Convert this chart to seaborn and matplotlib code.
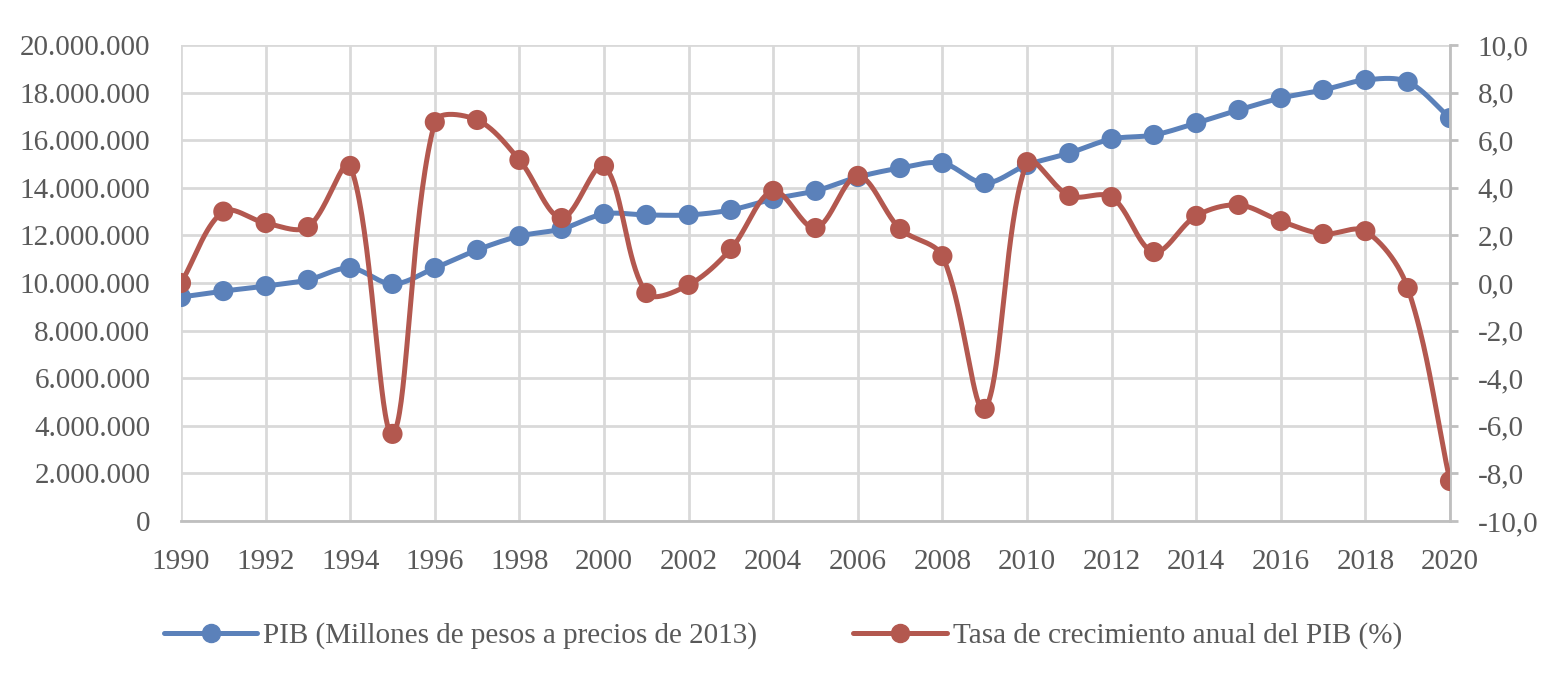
import numpy as np
import pandas as pd
import matplotlib.pyplot as plt
import seaborn as sns
from matplotlib.lines import Line2D
from matplotlib.ticker import FuncFormatter

# Data
years = list(range(1990, 2021))
pib = [9.41, 9.66, 9.87, 10.13, 10.63, 9.96, 10.63, 11.39, 11.97, 12.27,
       12.90, 12.86, 12.86, 13.07, 13.53, 13.87, 14.45, 14.83, 15.04, 14.20,
       14.96, 15.46, 16.05, 16.22, 16.72, 17.27, 17.77, 18.11, 18.53, 18.45,
       16.93]
pib = [v * 1_000_000 for v in pib]
tasa = [0.0, 3.0, 2.52, 2.35, 4.92, -6.34, 6.76, 6.85, 5.17, 2.73,
        4.92, -0.42, -0.08, 1.43, 3.87, 2.31, 4.50, 2.27, 1.13, -5.29,
        5.08, 3.66, 3.61, 1.30, 2.82, 3.28, 2.60, 2.06, 2.18, -0.21,
        -8.32]

label_pib = "PIB (Millones de pesos a precios de 2013)"
label_tasa = "Tasa de crecimiento anual del PIB (%)"

BLUE = "#5b81ba"
RED = "#b3584f"
GRID = "#d9d9d9"
TEXT = "#595959"

# pixel scale of the plot area (px per year, px per unit on each y axis)
PX_YEAR = (1450 - 181) / 30
PX_PIB = (521 - 45) / 20_000_000
PX_TASA = (521 - 45) / 20


def smooth(x, y, ky, n=40):
    # Excel-like smoothed line: cubic Bezier, control points scaled by
    # neighbouring segment lengths (in screen space)
    p = np.column_stack([np.asarray(x, float) * PX_YEAR, np.asarray(y, float) * ky])
    k = len(p)
    seg = np.linalg.norm(np.diff(p, axis=0), axis=1)
    xs, ys = [], []
    t = np.linspace(0, 1, n, endpoint=False)[:, None]
    for i in range(k - 1):
        p0, p3 = p[i], p[i + 1]
        if i == 0:
            c1 = p0 + (p3 - p0) / 3
        else:
            d = p[i + 1] - p[i - 1]
            c1 = p0 + d * seg[i] / (seg[i - 1] + seg[i]) / 3
        if i == k - 2:
            c2 = p3 - (p3 - p0) / 3
        else:
            d = p[i + 2] - p[i]
            c2 = p3 - d * seg[i] / (seg[i] + seg[i + 1]) / 3
        b = ((1 - t) ** 3) * p0 + 3 * ((1 - t) ** 2) * t * c1 \
            + 3 * (1 - t) * t ** 2 * c2 + t ** 3 * p3
        xs.append(b[:, 0])
        ys.append(b[:, 1])
    xs.append([p[-1, 0]])
    ys.append([p[-1, 1]])
    return np.concatenate(xs) / PX_YEAR, np.concatenate(ys) / ky


sns.set_theme(style="white")
plt.rcParams["font.family"] = ["Liberation Serif", "DejaVu Serif"]

fig = plt.figure(figsize=(15.66, 6.86), dpi=100)
ax = fig.add_axes([181 / 1566, 1 - 521 / 686, (1450 - 181) / 1566, (521 - 45) / 686])
ax2 = ax.twinx()

df = pd.DataFrame({"year": years, "pib": pib, "tasa": tasa})

sx, sy = smooth(df["year"], df["pib"], PX_PIB)
sns.lineplot(x=sx, y=sy, ax=ax, color=BLUE, linewidth=3.6, sort=False, zorder=3)
sns.scatterplot(data=df, x="year", y="pib", ax=ax, color=BLUE, s=210,
                edgecolor="none", zorder=4)

sx, sy = smooth(df["year"], df["tasa"], PX_TASA)
sns.lineplot(x=sx, y=sy, ax=ax2, color=RED, linewidth=3.6, sort=False, zorder=3)
sns.scatterplot(data=df, x="year", y="tasa", ax=ax2, color=RED, s=210,
                edgecolor="none", zorder=4)

ax.set_xlim(1990, 2020)
ax.set_ylim(0, 20_000_000)
ax2.set_ylim(-10, 10)
ax.set_xticks(range(1990, 2021, 2))
ax.set_yticks(range(0, 20_000_001, 2_000_000))
ax2.set_yticks(np.arange(-10, 10.1, 2))

ax.yaxis.set_major_formatter(FuncFormatter(lambda v, p: f"{int(v):,}".replace(",", ".")))
ax2.yaxis.set_major_formatter(FuncFormatter(lambda v, p: f"{v:.1f}".replace(".", ",")))

ax.grid(True, color=GRID, linewidth=2)
ax.set_axisbelow(True)
ax.set_xlabel("")
ax.set_ylabel("")
ax2.set_ylabel("")

for a in (ax, ax2):
    for s in a.spines.values():
        s.set_visible(False)
ax.spines["bottom"].set_visible(True)
ax.spines["bottom"].set_color("#bfbfbf")
ax.spines["bottom"].set_linewidth(2)
ax2.spines["right"].set_visible(True)
ax2.spines["right"].set_color("#bfbfbf")
ax2.spines["right"].set_linewidth(2)

ax.tick_params(axis="x", length=0, pad=20, labelsize=21, labelcolor=TEXT)
ax.tick_params(axis="y", length=0, pad=22, labelsize=21, labelcolor=TEXT)
ax2.tick_params(axis="y", length=6, width=2, color="#bfbfbf", pad=14,
                labelsize=21, labelcolor=TEXT, direction="out")

handles = [
    Line2D([], [], color=BLUE, linewidth=3.6, marker="o", markersize=13),
    Line2D([], [], color=RED, linewidth=3.6, marker="o", markersize=13),
]
fig.legend(handles, [label_pib, label_tasa], loc="center", ncol=2,
           bbox_to_anchor=(0.5, 1 - 636 / 686), frameon=False, fontsize=21,
           labelcolor=TEXT, handlelength=3.2, handletextpad=0.2,
           columnspacing=3.3, markerfirst=True)

fig.savefig("out.png", dpi=100)
